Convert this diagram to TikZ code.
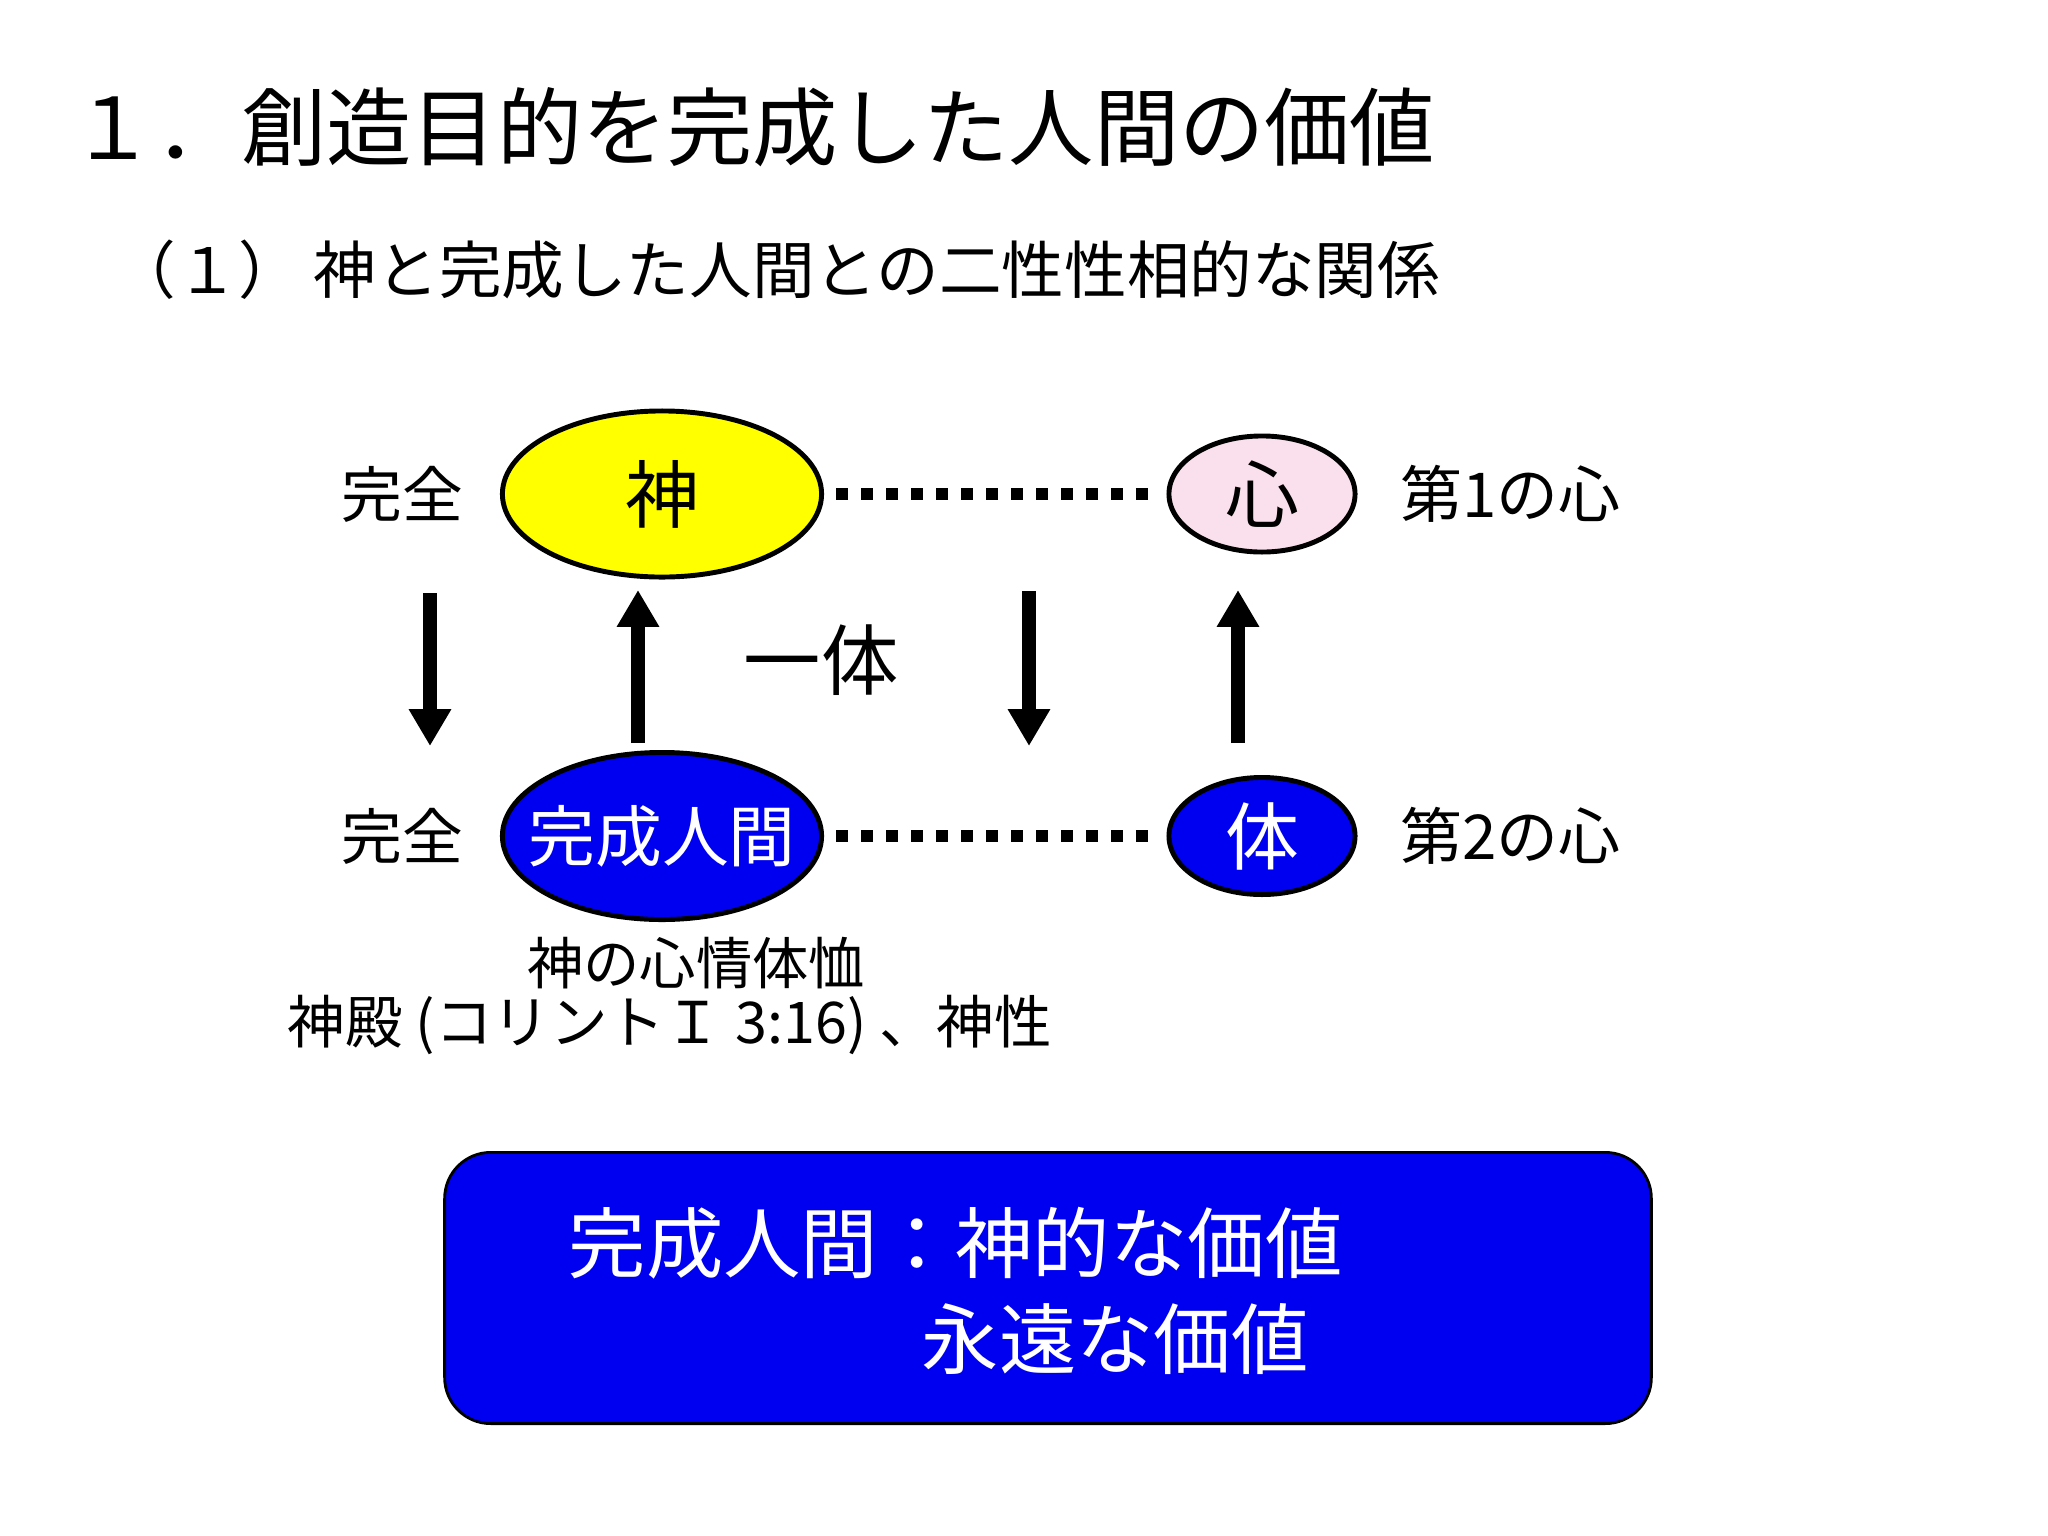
\documentclass[tikz,border=0pt]{standalone}
\usepackage{fontspec}
\setmainfont{Noto Sans CJK JP}
\usetikzlibrary{shapes.geometric,arrows.meta}
\definecolor{myblue}{RGB}{0,0,240}
\definecolor{mypink}{RGB}{250,224,236}
\definecolor{myyellow}{RGB}{255,255,0}
\newcommand{\fsz}[1]{\fontsize{#1}{#1}\selectfont}
\begin{document}
\begin{tikzpicture}[x=0.01cm,y=-0.01cm,
  ell/.style={ellipse,draw=black,line width=1.4pt,inner sep=0pt},
  lbl/.style={inner sep=0pt},
  dotline/.style={line width=3.4pt,dash pattern=on 3.4pt off 3.7pt,shorten <=3.5pt,shorten >=3.5pt},
  arr/.style={line width=3.8pt,-{Triangle[length=10.5pt,width=11.4pt]}}]
\fill[white] (0,0) rectangle (2048,1536);
\useasboundingbox (0,0) rectangle (2048,1536);

% headings
\node[lbl,anchor=west,font=\fsz{24.25pt}] (title) at (70,127) {１．創造目的を完成した人間の価値};
\node[lbl,anchor=west,font=\fsz{17.8pt}] (subtitle) at (113,270) {（１）\hspace{0.2em}神と完成した人間との二性性相的な関係};

% ellipses
\node[ell,fill=myyellow,minimum width=3.19cm,minimum height=1.66cm] (god) at (662,494) {\makebox[0pt]{\fsz{21pt}神}};
\node[ell,fill=mypink,minimum width=1.86cm,minimum height=1.16cm] (heart) at (1262,494) {\makebox[0pt]{\fsz{21pt}心}};
\node[ell,fill=myblue,minimum width=3.19cm,minimum height=1.67cm] (human) at (662,836) {\makebox[0pt]{\fsz{19pt}\color{white}完成人間}};
\node[ell,fill=myblue,minimum width=1.86cm,minimum height=1.17cm] (body) at (1262,836) {\makebox[0pt]{\fsz{21pt}\color{white}体}};

% side labels
\node[lbl,font=\fsz{17.3pt}] (kan1) at (402,494) {完全};
\node[lbl,font=\fsz{17.3pt}] (kan2) at (402,836) {完全};
\node[lbl,anchor=west,font=\fsz{17.6pt}] (dai1) at (1400,494) {第1の心};
\node[lbl,anchor=west,font=\fsz{17.6pt}] (dai2) at (1400,836) {第2の心};
\node[lbl,font=\fsz{22pt}] (ittai) at (821,660) {一体};

% dotted links
\draw[dotline] (god.east) -- (heart.west);
\draw[dotline] (human.east) -- (body.west);

% arrows
\coordinate (a1s) at (430,593); \coordinate (a1e) at (430,746);
\coordinate (a2s) at (638,743); \coordinate (a2e) at (638,590);
\coordinate (a3s) at (1029,591); \coordinate (a3e) at (1029,746);
\coordinate (a4s) at (1238,743); \coordinate (a4e) at (1238,590);
\draw[arr] (a1s) -- (a1e);
\draw[arr] (a2s) -- (a2e);
\draw[arr] (a3s) -- (a3e);
\draw[arr] (a4s) -- (a4e);

% notes under human
\node[lbl,font=\fsz{16pt}] (note1) at (696,963) {神の心情体恤};
\node[lbl,anchor=west,font=\fsz{16.35pt}] (note2) at (287,1025) {神殿 (コリントＩ 3:16) 、神性};

% value box
\node[draw=black,line width=0.8pt,fill=myblue,rounded corners=0.46cm,minimum width=12.06cm,minimum height=2.71cm,inner sep=0pt] (valbox) at (1048,1288) {};
\node[lbl,anchor=west,font=\fsz{22pt},text=white] (val1) at (568,1243) {完成人間：神的な価値};
\node[lbl,anchor=west,font=\fsz{22pt},text=white] (val2) at (921,1339) {永遠な価値};
\end{tikzpicture}
\end{document}
